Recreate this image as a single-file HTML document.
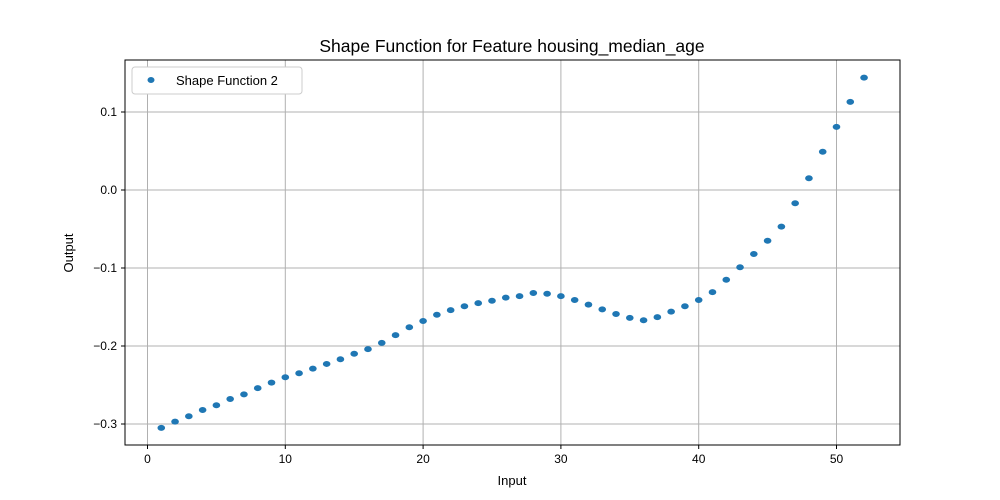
<!DOCTYPE html>
<html><head><meta charset="utf-8"><style>
body{margin:0;background:#fff;}
svg{display:block;font-family:"Liberation Sans","DejaVu Sans",sans-serif;}
</style></head><body>
<svg id="chart" width="1000" height="500">
<text x="512" y="52" font-size="17.5" text-anchor="middle">Shape Function for Feature housing_median_age</text>
<g id="grid"></g>
<g id="axes"></g>
<g id="points"></g>
<rect x="125" y="60" width="775" height="385" fill="none" stroke="#000" stroke-width="1"/>
<text x="512" y="485" font-size="13" text-anchor="middle">Input</text>
<text x="73" y="253" font-size="13" text-anchor="middle" transform="rotate(-90 73 253)">Output</text>
<g>
<rect x="132" y="67" width="170" height="27" fill="#fff" stroke="#ccc" rx="3"/>
<ellipse cx="151" cy="80" rx="3.5" ry="3" fill="#1f77b4"/>
<text x="176" y="85" font-size="13">Shape Function 2</text>
</g>
</svg>
<script>
const xs = [1,2,3,4,5,6,7,8,9,10,11,12,13,14,15,16,17,18,19,20,21,22,23,24,25,26,27,28,29,30,31,32,33,34,35,36,37,38,39,40,41,42,43,44,45,46,47,48,49,50,51,52];
const ys = [-0.305,-0.297,-0.290,-0.282,-0.276,-0.268,-0.262,-0.254,-0.247,-0.240,-0.235,-0.229,-0.223,-0.217,-0.210,-0.204,-0.196,-0.186,-0.176,-0.168,-0.160,-0.154,-0.149,-0.145,-0.142,-0.138,-0.136,-0.132,-0.133,-0.136,-0.141,-0.147,-0.153,-0.159,-0.164,-0.167,-0.163,-0.156,-0.149,-0.141,-0.131,-0.115,-0.099,-0.082,-0.065,-0.047,-0.017,0.015,0.049,0.081,0.113,0.144];
const xTicks = [0,10,20,30,40,50];
const yTicks = [-0.3,-0.2,-0.1,0.0,0.1];
const yTickLabels = ["\u22120.3","\u22120.2","\u22120.1","0.0","0.1"];
const NS="http://www.w3.org/2000/svg";
const L=125,R=900,T=60,B=445;
const X=v=>147.5+(v)*13.78;
const Y=v=>190-v*780;
const grid=document.getElementById('grid'),axes=document.getElementById('axes'),pts=document.getElementById('points');
function mk(tag,attrs,parent){const e=document.createElementNS(NS,tag);for(const k in attrs)e.setAttribute(k,attrs[k]);parent.appendChild(e);return e;}
xTicks.forEach(t=>{const x=X(t);
const g=mk('line',{x1:x,x2:x,y1:T,y2:B,stroke:'#b0b0b0','stroke-width':1},grid);


const k=mk('line',{x1:x,x2:x,y1:B,y2:B+4,stroke:'#000'},axes);


const tx=mk('text',{x:x,y:B+18,'font-size':12,'text-anchor':'middle'},axes);tx.textContent=t;


});
yTicks.forEach((t,i)=>{const y=Y(t);
const g=mk('line',{x1:L,x2:R,y1:y,y2:y,stroke:'#b0b0b0','stroke-width':1},grid);


const k=mk('line',{x1:L-4,x2:L,y1:y,y2:y,stroke:'#000'},axes);


const tx=mk('text',{x:L-8,y:y+4,'font-size':12,'text-anchor':'end'},axes);tx.textContent=yTickLabels[i];


});
xs.forEach((v,i)=>{const c=mk('ellipse',{cx:X(v),cy:Y(ys[i]),rx:3.8,ry:3,fill:'#1f77b4'},pts);


});
</script>
</body></html>
